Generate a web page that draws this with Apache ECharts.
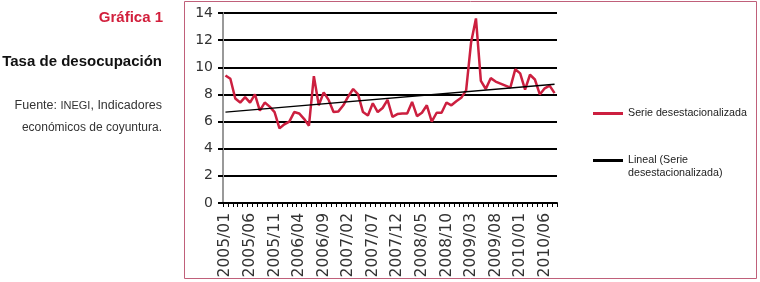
<!DOCTYPE html>
<html>
<head>
<meta charset="utf-8">
<script src="https://cdn.jsdelivr.net/npm/echarts@6/dist/echarts.min.js"></script>
<style>
  html, body { margin: 0; padding: 0; background: #fff; }
  #chart { width: 760px; height: 282px; }
</style>
</head>
<body>
<div id="chart"></div>
<script>
// meses 2005/01 - 2010/08
var meses = [
  '2005/01','2005/02','2005/03','2005/04','2005/05','2005/06','2005/07','2005/08','2005/09','2005/10','2005/11','2005/12',
  '2006/01','2006/02','2006/03','2006/04','2006/05','2006/06','2006/07','2006/08','2006/09','2006/10','2006/11','2006/12',
  '2007/01','2007/02','2007/03','2007/04','2007/05','2007/06','2007/07','2007/08','2007/09','2007/10','2007/11','2007/12',
  '2008/01','2008/02','2008/03','2008/04','2008/05','2008/06','2008/07','2008/08','2008/09','2008/10','2008/11','2008/12',
  '2009/01','2009/02','2009/03','2009/04','2009/05','2009/06','2009/07','2009/08','2009/09','2009/10','2009/11','2009/12',
  '2010/01','2010/02','2010/03','2010/04','2010/05','2010/06','2010/07','2010/08'
];

// serie desestacionalizada (tasa de desocupación, %)
var serie = [
  9.4, 9.15, 7.7, 7.4, 7.8, 7.4, 8.0, 6.8, 7.4, 7.1,
  6.7, 5.5, 5.8, 6.0, 6.7, 6.6, 6.2, 5.7, 9.35, 7.2,
  8.15, 7.6, 6.7, 6.75, 7.2, 7.85, 8.4, 8.0, 6.7, 6.45,
  7.35, 6.7, 7.0, 7.6, 6.35, 6.55, 6.6, 6.6, 7.45, 6.4,
  6.65, 7.2, 6.0, 6.65, 6.65, 7.4, 7.2, 7.5, 7.75, 8.3,
  11.8, 13.6, 9.0, 8.4, 9.2, 8.95, 8.8, 8.65, 8.5, 9.85,
  9.55, 8.35, 9.45, 9.1, 8.0, 8.45, 8.65, 8.1
];

// tendencia lineal: valor al inicio y al final
var lineal = [6.7, 8.75];

var yTicks = [0, 2, 4, 6, 8, 10, 12, 14];

var nombreSerie = 'Serie desestacionalizada';
var nombreLineal = 'Lineal (Serie desestacionalizada)';

var datosLineal = meses.map(function (m, i) {
  if (i === 0) return lineal[0];
  if (i === meses.length - 1) return lineal[1];
  return null;
});

var myChart = echarts.init(document.getElementById('chart'));

var option = {
  animation: false,
  backgroundColor: '#fff',
  textStyle: { fontFamily: 'Liberation Sans' },
  graphic: [
    {
      type: 'rect',
      shape: { x: 184.5, y: 1.5, width: 572, height: 277 },
      style: { fill: 'none', stroke: '#c0607a', lineWidth: 1 }
    },
    {
      type: 'text', x: 163, y: 18,
      style: {
        text: 'Gráfica 1', align: 'right', verticalAlign: 'middle',
        font: 'bold 15px "Liberation Sans"', fill: '#d21f3c'
      }
    },
    {
      type: 'text', x: 162, y: 62,
      style: {
        text: 'Tasa de desocupación', align: 'right', verticalAlign: 'middle',
        font: 'bold 15px "Liberation Sans"', fill: '#111'
      }
    },
    {
      type: 'text', x: 162, y: 106,
      style: {
        text: 'Fuente: {s|INEGI}, Indicadores', align: 'right', verticalAlign: 'middle',
        font: '12.5px "Liberation Sans"', fill: '#333',
        rich: { s: { fontSize: 11, fontFamily: 'Liberation Sans', fill: '#333' } }
      }
    },
    {
      type: 'text', x: 162, y: 128,
      style: {
        text: 'económicos de coyuntura.', align: 'right', verticalAlign: 'middle',
        font: '12px "Liberation Sans"', fill: '#333'
      }
    }
  ],
  legend: {
    orient: 'vertical',
    left: 588,
    top: 102,
    itemWidth: 30,
    itemHeight: 3,
    itemGap: 21,
    icon: 'rect',
    textStyle: { fontSize: 10.7, color: '#222', lineHeight: 13, fontFamily: 'Liberation Sans' },
    formatter: function (name) {
      // segunda entrada: primera línea alineada con el icono
      if (name === nombreLineal) return '\nLineal (Serie\ndesestacionalizada)';
      return name;
    },
    data: [nombreSerie, nombreLineal]
  },
  grid: { left: 223, right: 203, top: 13, bottom: 79 },
  xAxis: {
    type: 'category',
    data: meses,
    boundaryGap: true,
    axisLine: { lineStyle: { color: '#000', width: 2 } },
    axisTick: { show: true, interval: 0, length: 4, lineStyle: { color: '#000', width: 1 } },
    axisLabel: {
      interval: 4, rotate: 90, margin: 10,
      fontSize: 15.5, fontFamily: 'DejaVu Sans', color: '#333'
    },
    splitLine: { show: false }
  },
  yAxis: {
    type: 'value',
    min: yTicks[0],
    max: yTicks[yTicks.length - 1],
    interval: 2,
    axisLine: { show: true, lineStyle: { color: '#999', width: 2 } },
    axisTick: { show: true, length: 5, lineStyle: { color: '#000', width: 2 } },
    axisLabel: { margin: 10, fontSize: 14, fontFamily: 'DejaVu Sans', color: '#333' },
    splitLine: { lineStyle: { color: '#000', width: 2 } }
  },
  series: [
    {
      name: nombreSerie,
      type: 'line',
      data: serie,
      symbol: 'none',
      lineStyle: { color: '#cc1f3f', width: 2.5 },
      itemStyle: { color: '#cc1f3f' },
      z: 3
    },
    {
      name: nombreLineal,
      type: 'line',
      data: datosLineal,
      connectNulls: true,
      symbol: 'none',
      lineStyle: { color: '#000', width: 1.3 },
      itemStyle: { color: '#000' },
      z: 4
    }
  ]
};

myChart.setOption(option);
</script>
</body>
</html>
